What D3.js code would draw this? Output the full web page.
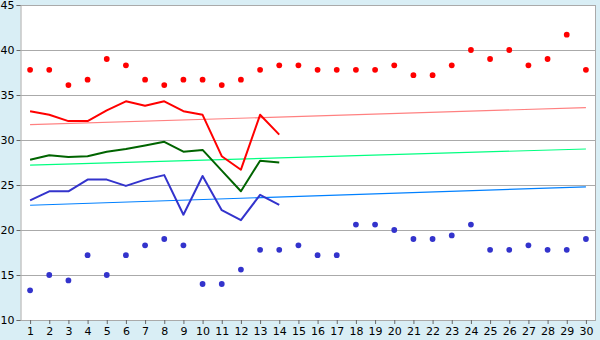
<!DOCTYPE html>
<html>
<head>
<meta charset="utf-8">
<script src="https://cdn.jsdelivr.net/npm/d3@7"></script>
<style>
  html, body { margin: 0; padding: 0; background: #d9eef5; }
  svg { display: block; }
  text { font-family: "DejaVu Sans", Verdana, sans-serif; font-size: 11px; fill: #000; }
</style>
</head>
<body>
<div id="chart"></div>
<script>
// Days of the month
const days = d3.range(1, 31);

// Daily maximum / minimum markers
const maxPoints = [37.8, 37.8, 36.1, 36.7, 39.0, 38.3, 36.7, 36.1, 36.7, 36.7,
                   36.1, 36.7, 37.8, 38.3, 38.3, 37.8, 37.8, 37.8, 37.8, 38.3,
                   37.2, 37.2, 38.3, 40.0, 39.0, 40.0, 38.3, 39.0, 41.7, 37.8];
const minPoints = [13.3, 15.0, 14.4, 17.2, 15.0, 17.2, 18.3, 19.0, 18.3, 14.0,
                   14.0, 15.6, 17.8, 17.8, 18.3, 17.2, 17.2, 20.6, 20.6, 20.0,
                   19.0, 19.0, 19.4, 20.6, 17.8, 17.8, 18.3, 17.8, 17.8, 19.0];

// Lines for the first 14 days
const redLine   = [33.2, 32.8, 32.1, 32.1, 33.3, 34.3, 33.8, 34.3, 33.2, 32.8, 28.2, 26.7, 32.8, 30.6];
const greenLine = [27.8, 28.3, 28.1, 28.2, 28.7, 29.0, 29.4, 29.8, 28.7, 28.9, 26.6, 24.3, 27.7, 27.5];
const blueLine  = [23.3, 24.3, 24.3, 25.6, 25.6, 24.9, 25.6, 26.1, 21.7, 26.0, 22.2, 21.1, 23.9, 22.8];

// Trend lines (start at day 1, end at day 30)
const trendDays  = [1, 30];
const redTrend   = [31.7, 33.6];
const greenTrend = [27.2, 29.0];
const blueTrend  = [22.75, 24.8];

const yTicks = [10, 15, 20, 25, 30, 35, 40, 45];

const width = 600, height = 340;
const margin = { top: 5, right: 4.5, bottom: 20, left: 20.5 };
const innerW = width - margin.left - margin.right;
const innerH = height - margin.top - margin.bottom;

const svg = d3.select("#chart").append("svg")
    .attr("width", width)
    .attr("height", height);

const g = svg.append("g")
    .attr("transform", `translate(${margin.left}, ${margin.top})`);

const x = d3.scalePoint()
    .domain(days)
    .range([0, innerW])
    .padding(0.5);

const y = d3.scaleLinear()
    .domain([10, 45])
    .range([innerH, 0]);

// Plot background
g.append("rect")
    .attr("width", innerW)
    .attr("height", innerH)
    .attr("fill", "#fff");

// Gridlines
g.append("g")
    .selectAll("line")
    .data(yTicks)
    .enter()
    .append("line")
    .attr("x1", 0)
    .attr("x2", innerW)
    .attr("y1", d => Math.round(y(d)) + 0.5)
    .attr("y2", d => Math.round(y(d)) + 0.5)
    .attr("stroke", "#aaa")
    .attr("shape-rendering", "crispEdges");

// Right border
g.append("line")
    .attr("x1", innerW).attr("x2", innerW)
    .attr("y1", 0).attr("y2", innerH)
    .attr("stroke", "#aaa")
    .attr("shape-rendering", "crispEdges");

// Y axis
const yAxis = g.append("g")
    .call(d3.axisLeft(y).tickValues(yTicks).tickSize(4).tickPadding(2));
yAxis.select(".domain").attr("stroke", "#aaa");
yAxis.selectAll(".tick line").attr("stroke", "#666");
yAxis.selectAll("text").style("font-size", "11px");

// X axis
const xAxis = g.append("g")
    .attr("transform", `translate(0, ${innerH})`)
    .call(d3.axisBottom(x).tickSize(4).tickSizeOuter(0).tickPadding(3));
xAxis.select(".domain").attr("stroke", "#aaa");
xAxis.selectAll(".tick line").attr("stroke", "#666");
xAxis.selectAll("text").style("font-size", "11px");

// Trend lines
const trends = [
    { values: redTrend, color: "#ff8080" },
    { values: greenTrend, color: "#00ff80" },
    { values: blueTrend, color: "#0080ff" }
];
const trendLine = d3.line()
    .x((d, i) => x(trendDays[i]))
    .y(d => y(d));
trends.forEach(t => {
    g.append("path")
        .attr("d", trendLine(t.values))
        .attr("fill", "none")
        .attr("stroke", t.color)
        .attr("stroke-width", 1.2);
});

// Main lines
const mainLine = d3.line()
    .x((d, i) => x(days[i]))
    .y(d => y(d));
[
    { values: redLine, color: "#ff0000" },
    { values: greenLine, color: "#006400" },
    { values: blueLine, color: "#3333cc" }
].forEach(s => {
    g.append("path")
        .attr("d", mainLine(s.values))
        .attr("fill", "none")
        .attr("stroke", s.color)
        .attr("stroke-width", 2)
        .attr("stroke-linejoin", "round");
});

// Markers
const marker = d3.symbol().type(d3.symbolCircle).size(26);
g.append("g")
    .selectAll("path")
    .data(maxPoints)
    .enter()
    .append("path")
    .attr("d", marker)
    .attr("transform", (d, i) => `translate(${x(days[i])}, ${y(d)})`)
    .attr("fill", "#ff0000");

g.append("g")
    .selectAll("path")
    .data(minPoints)
    .enter()
    .append("path")
    .attr("d", marker)
    .attr("transform", (d, i) => `translate(${x(days[i])}, ${y(d)})`)
    .attr("fill", "#3333cc");
</script>
</body>
</html>
